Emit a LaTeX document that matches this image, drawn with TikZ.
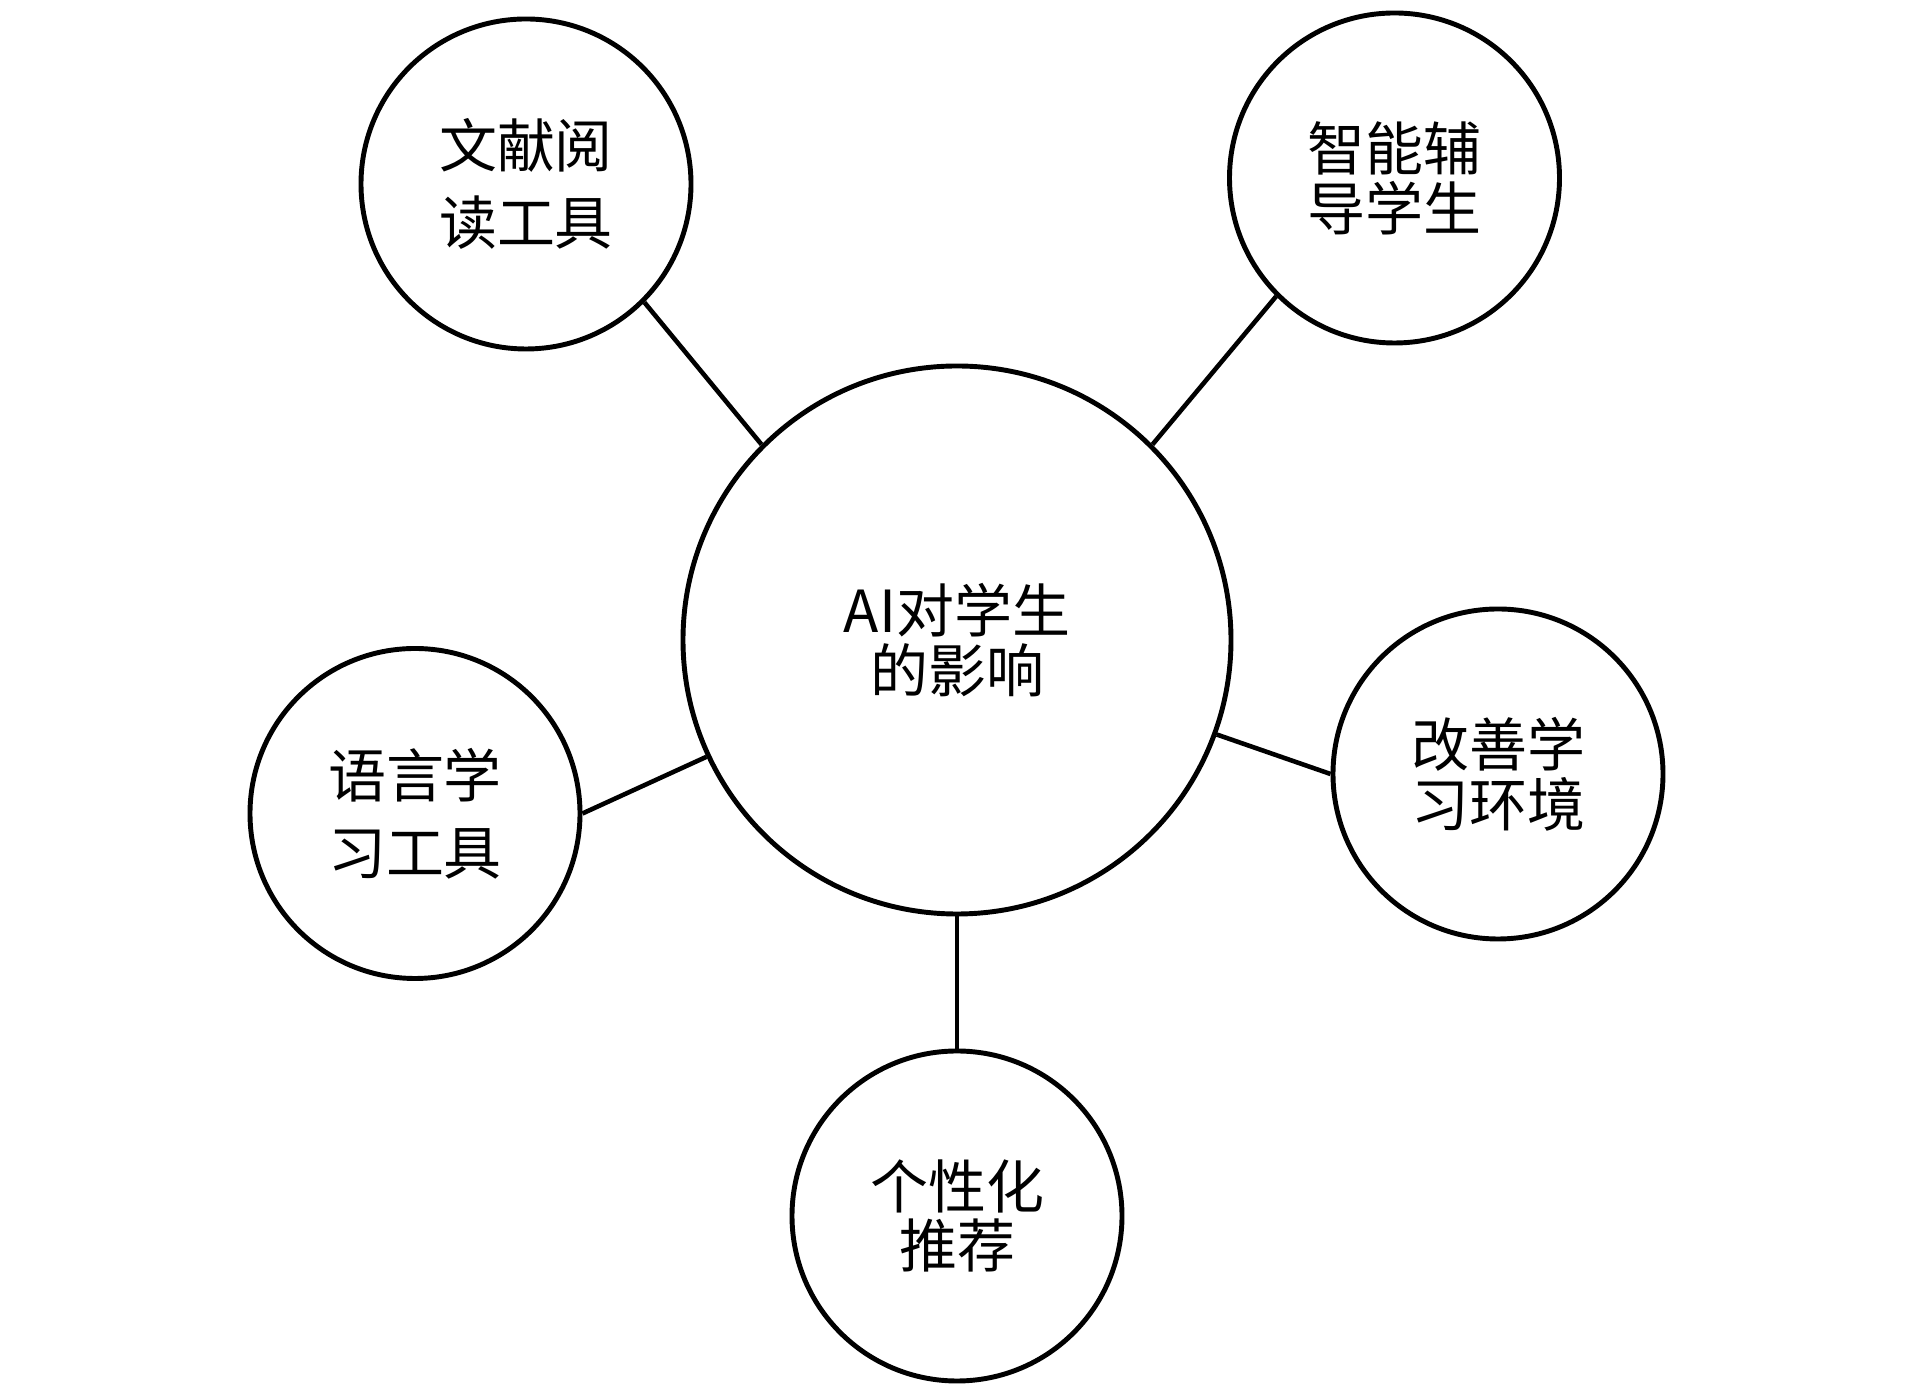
\documentclass[tikz,border=0pt]{standalone}
\usepackage{fontspec}
\newfontfamily\cjk{Noto Sans CJK SC}

\begin{document}
\begin{tikzpicture}[
        topic/.style={circle, draw, line width=1.4pt, minimum size=3.3cm, inner sep=0pt,
            align=center, font=\cjk\fontsize{16.5}{17}\selectfont},
        hub/.style={topic, minimum size=5.48cm},
        link/.style={line width=1.3pt}]
        \useasboundingbox (0,0) rectangle (19.13,13.94);
        \node[hub] (ai) at (9.57,7.54) {AI对学生\\的影响};
        \node[topic] (wenxian) at (5.26,12.10) {文献阅\\[5pt]读工具};
        \node[topic] (fudao) at (13.945,12.16) {智能辅\\导学生};
        \node[topic] (yuyan) at (4.15,5.805) {语言学\\[5pt]习工具};
        \node[topic] (huanjing) at (14.98,6.20) {改善学\\习环境};
        \node[topic] (tuijian) at (9.57,1.78) {个性化\\推荐};
        \draw[link] (ai.135) -- (wenxian.-45);
        \draw[link] (ai.45) -- (fudao.-135);
        \draw[link] (ai.-155) -- (yuyan.east);
        \draw[link] (ai.-20) -- (huanjing.west);
        \draw[link] (ai.south) -- (tuijian.north);
    \end{tikzpicture}
\end{document}
